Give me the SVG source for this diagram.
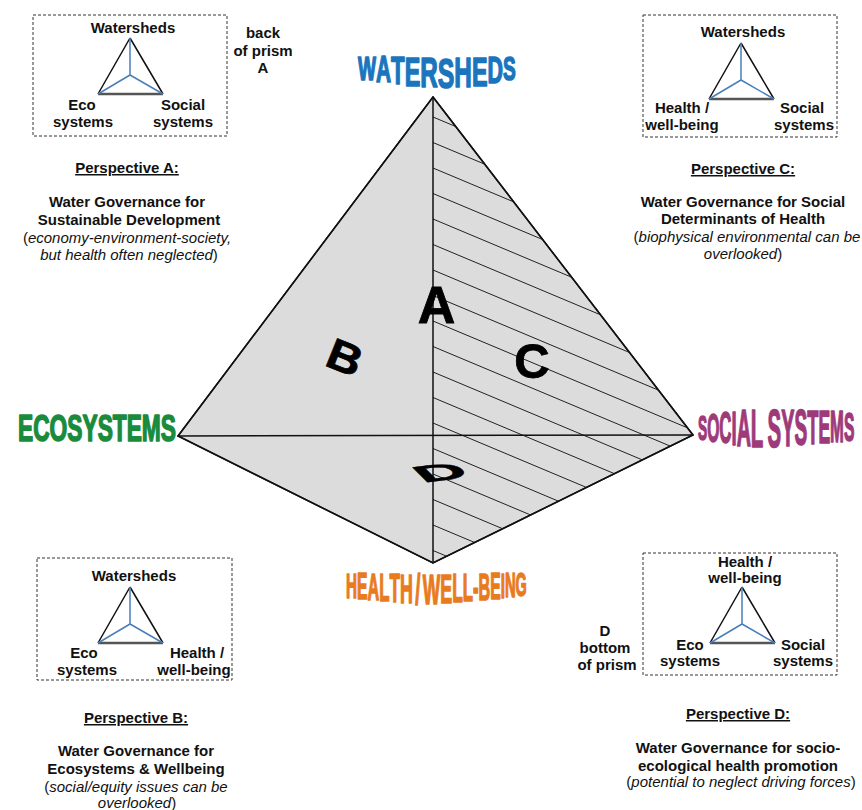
<svg xmlns="http://www.w3.org/2000/svg" width="862" height="810" viewBox="0 0 862 810">
<style>
.lbl{font-family:"Liberation Sans",Arial,sans-serif;font-weight:bold;font-size:15px;fill:#111;text-anchor:middle}
.it{font-family:"Liberation Sans",Arial,sans-serif;font-size:15px;fill:#111;text-anchor:middle}
.it tspan.i{font-style:italic}
.box{fill:none;stroke:#333;stroke-width:1;stroke-dasharray:3 2}
.tri-o{stroke:#111;stroke-width:1.5;fill:none}
.tri-b{stroke:#555;stroke-width:2.5}
.tri-c{stroke:#4a7ebb;stroke-width:1.5;fill:none}
.big{font-family:"Liberation Sans",Arial,sans-serif;font-weight:bold;fill:#000;stroke:#000;stroke-width:0.8;text-anchor:middle}
.wa{font-family:"Liberation Sans",Arial,sans-serif;font-weight:bold;stroke-width:1.6;stroke-linejoin:round}
.hatch line{stroke:#222;stroke-width:1}
</style>
<defs>
<g id="tri">
<path class="tri-o" d="M0,0 L-32,56 M0,0 L33,56"/>
<line class="tri-b" x1="-32" y1="56" x2="33" y2="56"/>
<path class="tri-c" d="M0,37 L0,0 M0,37 L-32,56 M0,37 L33,56"/>
</g>
<clipPath id="rightHalf"><polygon points="433,97 693,435 433,563"/></clipPath>
</defs>
<rect width="862" height="810" fill="#fff"/>

<g id="prism">
<polygon points="433,97 693,435 433,563 178,436" fill="#dcdcdc" stroke="#111" stroke-width="1.5"/>
<g class="hatch" clip-path="url(#rightHalf)">
<line x1="433" y1="117" x2="700" y2="229.1"/>
<line x1="433" y1="142.5" x2="700" y2="254.6"/>
<line x1="433" y1="168" x2="700" y2="280.1"/>
<line x1="433" y1="193.5" x2="700" y2="305.6"/>
<line x1="433" y1="219" x2="700" y2="331.1"/>
<line x1="433" y1="244.5" x2="700" y2="356.6"/>
<line x1="433" y1="270" x2="700" y2="382.1"/>
<line x1="433" y1="295.5" x2="700" y2="407.6"/>
<line x1="433" y1="321" x2="700" y2="433.1"/>
<line x1="433" y1="346.5" x2="700" y2="458.6"/>
<line x1="433" y1="372" x2="700" y2="484.1"/>
<line x1="433" y1="397.5" x2="700" y2="509.6"/>
<line x1="433" y1="423" x2="700" y2="535.1"/>
<line x1="433" y1="448.5" x2="700" y2="560.6"/>
<line x1="433" y1="474" x2="700" y2="586.1"/>
<line x1="433" y1="499.5" x2="700" y2="611.6"/>
<line x1="433" y1="525" x2="700" y2="637.1"/>
<line x1="433" y1="550.5" x2="700" y2="662.6"/>
</g>
<polygon points="433,97 693,435 433,563 178,436" fill="none" stroke="#111" stroke-width="1.5"/>
<g id="connectors">
<line x1="433" y1="97" x2="433" y2="563" stroke="#111" stroke-width="1.5"/>
<line x1="178" y1="436" x2="693" y2="435" stroke="#111" stroke-width="1.5"/>
</g>
<text class="big" x="436.5" y="323" font-size="52">A</text>
<text class="big" transform="translate(345,357) rotate(22) scale(1,0.9)" x="0" y="17" font-size="48">B</text>
<text class="big" x="532" y="377.5" font-size="49">C</text>
<text class="big" transform="translate(440,472) rotate(-7) skewX(38) scale(1.55,0.55)" x="0" y="15.7" font-size="44">D</text>
</g>

<g id="node-watersheds">
<text class="wa" fill="#1b75bc" stroke="#1b75bc" transform="translate(358,0) scale(0.578,1)" x="0"><tspan y="80" font-size="33">W</tspan><tspan y="82" font-size="36">A</tspan><tspan y="84" font-size="38.5">T</tspan><tspan y="86" font-size="40.5">E</tspan><tspan y="87" font-size="42">R</tspan><tspan y="88" font-size="43">S</tspan><tspan y="87" font-size="42">H</tspan><tspan y="86" font-size="40.5">E</tspan><tspan y="83" font-size="37">D</tspan><tspan y="80" font-size="33">S</tspan></text>
</g>

<g id="node-ecosystems">
<text class="wa" fill="#1a8b3c" stroke="#1a8b3c" x="18" y="441" font-size="36" textLength="158" lengthAdjust="spacingAndGlyphs">ECOSYSTEMS</text>
</g>

<g id="node-social">
<text class="wa" fill="#9e3a7a" stroke="#9e3a7a" transform="translate(698,0) scale(0.382,1)" x="0"><tspan y="440" font-size="36">S</tspan><tspan y="442" font-size="41">O</tspan><tspan y="443" font-size="44">C</tspan><tspan y="445" font-size="48.5">I</tspan><tspan y="446" font-size="51.5">A</tspan><tspan y="447" font-size="53.5">L</tspan><tspan y="447" font-size="40"> </tspan><tspan y="447" font-size="53.5">S</tspan><tspan y="446" font-size="52">Y</tspan><tspan y="445" font-size="50">S</tspan><tspan y="444" font-size="48">T</tspan><tspan y="443" font-size="46">E</tspan><tspan y="442" font-size="43.5">M</tspan><tspan y="441" font-size="41">S</tspan></text>
</g>

<g id="node-health">
<text class="wa" fill="#e87b1e" stroke="#e87b1e" transform="translate(346,0) scale(0.43,1)" x="0"><tspan y="598" font-size="35.5">H</tspan><tspan y="599" font-size="36.5">E</tspan><tspan y="600" font-size="37.7">A</tspan><tspan y="601" font-size="39">L</tspan><tspan y="602" font-size="40.2">T</tspan><tspan y="603" font-size="41.5">H</tspan><tspan y="603" font-size="20"> </tspan><tspan y="604" font-size="43">/</tspan><tspan y="604" font-size="20"> </tspan><tspan y="604" font-size="43">W</tspan><tspan y="603" font-size="41.5">E</tspan><tspan y="602" font-size="40.2">L</tspan><tspan y="601" font-size="39">L</tspan><tspan y="601" font-size="38.4">-</tspan><tspan y="600" font-size="37.7">B</tspan><tspan y="599" font-size="36.5">E</tspan><tspan y="598" font-size="35.5">I</tspan><tspan y="597" font-size="34.5">N</tspan><tspan y="596" font-size="33.5">G</tspan></text>
</g>

<g id="mini-A">
<rect class="box" x="33" y="15" width="194" height="121"/>
<text class="lbl" x="133" y="33">Watersheds</text>
<use href="#tri" transform="translate(130,38)"/>
<text class="lbl" x="82" y="110">Eco</text>
<text class="lbl" x="83" y="127">systems</text>
<text class="lbl" x="183" y="110">Social</text>
<text class="lbl" x="183" y="127">systems</text>
</g>
<g id="note-back">
<text class="lbl" x="263" y="38">back</text>
<text class="lbl" x="263" y="56">of prism</text>
<text class="lbl" x="263" y="73">A</text>
</g>

<g id="mini-C">
<rect class="box" x="643" y="15" width="194" height="122"/>
<text class="lbl" x="743" y="37">Watersheds</text>
<use href="#tri" transform="translate(741,43)"/>
<text class="lbl" x="682" y="113">Health /</text>
<text class="lbl" x="682" y="130">well-being</text>
<text class="lbl" x="802" y="113">Social</text>
<text class="lbl" x="804" y="130">systems</text>
</g>

<g id="mini-B">
<rect class="box" x="37" y="558" width="195" height="122"/>
<text class="lbl" x="134" y="581">Watersheds</text>
<use href="#tri" transform="translate(130,587)"/>
<text class="lbl" x="84" y="658">Eco</text>
<text class="lbl" x="87" y="675">systems</text>
<text class="lbl" x="197" y="658">Health /</text>
<text class="lbl" x="194" y="675">well-being</text>
</g>

<g id="mini-D">
<rect class="box" x="643" y="553" width="194" height="122"/>
<text class="lbl" x="745" y="567">Health /</text>
<text class="lbl" x="745" y="583">well-being</text>
<use href="#tri" transform="translate(742,587)"/>
<text class="lbl" x="690" y="650">Eco</text>
<text class="lbl" x="690" y="666">systems</text>
<text class="lbl" x="803" y="650">Social</text>
<text class="lbl" x="803" y="666">systems</text>
</g>
<g id="note-bottom">
<text class="lbl" x="605" y="636">D</text>
<text class="lbl" x="605" y="653">bottom</text>
<text class="lbl" x="607" y="670">of prism</text>
</g>

<g id="perspective-A">
<text class="lbl" x="127" y="173" text-decoration="underline">Perspective A:</text>
<text class="lbl" x="127" y="207">Water Governance for</text>
<text class="lbl" x="129" y="225">Sustainable Development</text>
<text class="it" x="127" y="243">(<tspan class="i">economy-environment-society,</tspan></text>
<text class="it" x="129" y="260"><tspan class="i">but health often neglected</tspan>)</text>
</g>

<g id="perspective-C">
<text class="lbl" x="743" y="174" text-decoration="underline">Perspective C:</text>
<text class="lbl" x="743" y="207">Water Governance for Social</text>
<text class="lbl" x="743" y="224">Determinants of Health</text>
<text class="it" x="747" y="242">(<tspan class="i">biophysical environmental can be</tspan></text>
<text class="it" x="743" y="259"><tspan class="i">overlooked</tspan>)</text>
</g>

<g id="perspective-B">
<text class="lbl" x="136" y="723" text-decoration="underline">Perspective B:</text>
<text class="lbl" x="136" y="756">Water Governance for</text>
<text class="lbl" x="136" y="774">Ecosystems &amp; Wellbeing</text>
<text class="it" x="136" y="792">(<tspan class="i">social/equity issues can be</tspan></text>
<text class="it" x="137" y="808"><tspan class="i">overlooked</tspan>)</text>
</g>

<g id="perspective-D">
<text class="lbl" x="738" y="719" text-decoration="underline">Perspective D:</text>
<text class="lbl" x="738" y="753">Water Governance for socio-</text>
<text class="lbl" x="738" y="771">ecological health promotion</text>
<text class="it" x="741" y="787">(<tspan class="i">potential to neglect driving forces</tspan>)</text>
</g>
</svg>
